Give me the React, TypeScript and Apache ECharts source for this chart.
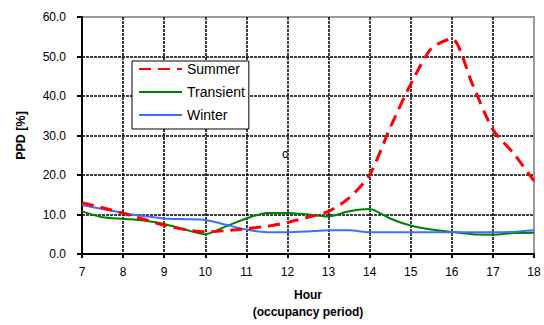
import React, { useEffect, useRef } from "react";
import * as echarts from "echarts";

const hours = [7, 7.5, 8, 8.5, 9, 9.5, 10, 10.5, 11, 11.5, 12, 12.5, 13, 13.5, 14, 14.5, 15, 15.5, 16, 16.5, 17, 17.5, 18];
const summer = [13.0, 11.7, 10.3, 8.8, 7.3, 6.2, 5.6, 5.9, 6.4, 7.0, 8.0, 9.3, 10.8, 14.2, 20.0, 32.0, 43.0, 52.0, 54.5, 43.0, 31.5, 25.5, 18.5];
const transient = [10.8, 9.3, 8.9, 8.5, 7.6, 6.2, 5.0, 7.0, 9.0, 10.4, 10.4, 10.0, 9.5, 10.8, 11.4, 9.0, 7.2, 6.2, 5.6, 5.0, 4.9, 5.3, 5.4];
const winter = [12.4, 11.4, 10.4, 9.6, 9.0, 8.8, 8.6, 7.4, 6.2, 5.5, 5.5, 5.7, 6.0, 6.0, 5.5, 5.5, 5.5, 5.5, 5.5, 5.5, 5.5, 5.6, 6.0];
const seriesNames = ["Summer", "Transient", "Winter"];
const xAxisTitle = "Hour\n(occupancy period)";
const yAxisTitle = "PPD [%]";
const annotation = "c";

const FONT = "'Liberation Sans', Arial, sans-serif";

const pairs = (vals: number[]) => hours.map((h, i) => [h, vals[i]]);

export default function App() {
  const ref = useRef<HTMLDivElement>(null);
  useEffect(() => {
    if (!ref.current) return;
    const chart = echarts.init(ref.current, undefined, { renderer: "svg" });
    chart.setOption({
      animation: false,
      backgroundColor: "#fff",
      textStyle: { fontFamily: FONT, color: "#000" },
      grid: {
        left: 82,
        right: 10,
        top: 17,
        bottom: 67,
        show: true,
        borderColor: "#9a9a9a",
        borderWidth: 2,
        backgroundColor: "transparent",
      },
      legend: {
        left: 132,
        top: 61,
        orient: "vertical",
        data: seriesNames,
        backgroundColor: "#fff",
        borderColor: "#000",
        borderWidth: 1,
        borderRadius: 0,
        padding: [1, 4, 7, 6],
        itemWidth: 43,
        itemHeight: 14,
        itemGap: 9,
        itemStyle: { color: "transparent", borderColor: "transparent", borderWidth: 0, opacity: 0 },
        textStyle: { fontFamily: FONT, fontSize: 14, color: "#000" },
      },
      xAxis: {
        type: "value",
        min: 7,
        max: 18,
        interval: 1,
        name: xAxisTitle,
        nameLocation: "middle",
        nameGap: 32,
        nameTextStyle: { fontFamily: FONT, fontSize: 12, fontWeight: "bold", lineHeight: 17, color: "#000" },
        axisLine: { show: true, onZero: false, lineStyle: { color: "#000", width: 2 } },
        axisTick: { show: true, length: 4, lineStyle: { color: "#000", width: 2 } },
        axisLabel: { fontFamily: FONT, fontSize: 12, color: "#000", margin: 12 },
        splitLine: { show: true, showMinLine: false, showMaxLine: false, lineStyle: { color: "#000", width: 1.5, type: [3, 1] } },
      },
      yAxis: {
        type: "value",
        min: 0,
        max: 60,
        interval: 10,
        name: yAxisTitle,
        nameLocation: "middle",
        nameGap: 55,
        nameRotate: 90,
        nameTextStyle: { fontFamily: FONT, fontSize: 12.5, fontWeight: "bold", color: "#000" },
        axisLine: { show: true, lineStyle: { color: "#000", width: 2 } },
        axisTick: { show: true, length: 5, lineStyle: { color: "#000", width: 2 } },
        axisLabel: { fontFamily: FONT, fontSize: 12, color: "#000", margin: 16, formatter: (v: number) => v.toFixed(1) },
        splitLine: { show: true, showMinLine: false, showMaxLine: false, lineStyle: { color: "#000", width: 1.5, type: [3, 1] } },
      },
      graphic: [
        {
          type: "text",
          left: 282,
          top: 148,
          style: { text: annotation, fontFamily: FONT, fontSize: 12, fill: "#000" },
          z: 100,
        },
      ],
      series: [
        {
          name: seriesNames[0],
          type: "line",
          data: pairs(summer),
          smooth: 0.25,
          symbol: "none",
          lineStyle: { color: "#ff0000", width: 3, type: [12, 7] },
          itemStyle: { color: "#ff0000" },
          z: 3,
        },
        {
          name: seriesNames[1],
          type: "line",
          data: pairs(transient),
          smooth: 0.25,
          symbol: "none",
          lineStyle: { color: "#008000", width: 2 },
          itemStyle: { color: "#008000" },
          z: 2,
        },
        {
          name: seriesNames[2],
          type: "line",
          data: pairs(winter),
          smooth: 0.25,
          symbol: "none",
          lineStyle: { color: "#3d6fff", width: 2 },
          itemStyle: { color: "#3d6fff" },
          z: 2,
        },
      ],
    });
    return () => chart.dispose();
  }, []);
  return <div ref={ref} style={{ width: 544, height: 325, position: "absolute", left: 0, top: 0 }} />;
}
